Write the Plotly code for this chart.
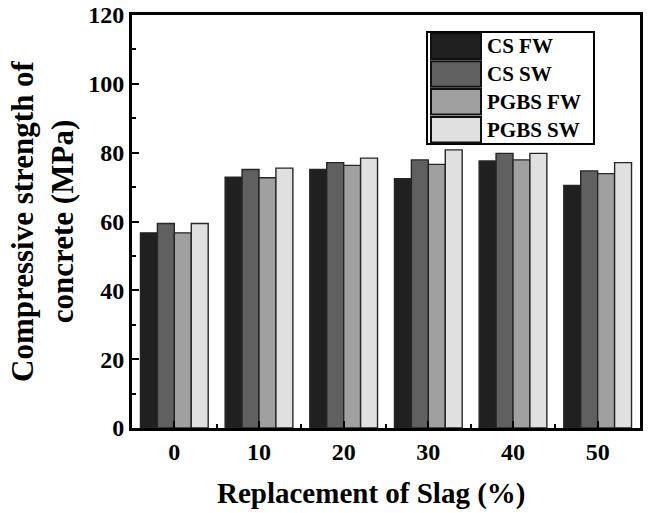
import plotly.graph_objects as go

slag = [0, 10, 20, 30, 40, 50]
series_names = ["CS FW", "CS SW", "PGBS FW", "PGBS SW"]
cs_fw = [56.7, 72.9, 75.1, 72.4, 77.6, 70.5]
cs_sw = [59.4, 75.1, 77.1, 77.9, 79.8, 74.7]
pgbs_fw = [56.7, 72.7, 76.3, 76.6, 77.9, 73.9]
pgbs_sw = [59.4, 75.5, 78.4, 80.8, 79.8, 77.1]
series_values = [cs_fw, cs_sw, pgbs_fw, pgbs_sw]
colors = ["#202020", "#606060", "#a0a0a0", "#e0e0e0"]
y_ticks = [0, 20, 40, 60, 80, 100, 120]
x_ticks = [0, 10, 20, 30, 40, 50]
x_title = "Replacement of Slag (%)"
y_title = "Compressive strength of<br>concrete (MPa)"

FONT = "Liberation Serif"

fig = go.Figure()
for name, vals, col in zip(series_names, series_values, colors):
    fig.add_trace(go.Bar(
        x=slag, y=vals, name=name, showlegend=False,
        marker=dict(color=col, line=dict(color="#262626", width=1.4)),
    ))

# plot area in pixels (for custom legend layout)
L, R, T, B = 132, 640, 15, 428
W, H = 652, 513
def px(xp):
    return (xp - L) / (R - L)
def py(yp):
    return (B - yp) / (B - T)

shapes = []
annotations = []
# legend box
shapes.append(dict(type="rect", xref="paper", yref="paper",
                   x0=px(427), x1=px(594), y0=py(144), y1=py(32),
                   line=dict(color="black", width=2), fillcolor="white", layer="above"))
row_h = 27.8
for i, (name, col) in enumerate(zip(series_names, colors)):
    top = 33.5 + i * row_h
    bot = top + 25.5
    shapes.append(dict(type="rect", xref="paper", yref="paper",
                       x0=px(431), x1=px(481), y0=py(bot), y1=py(top),
                       line=dict(color="#111111", width=2), fillcolor=col, layer="above"))
    annotations.append(dict(xref="paper", yref="paper", x=px(485), y=py((top + bot) / 2),
                            text=name, showarrow=False, xanchor="left", yanchor="middle",
                            font=dict(family=FONT, size=21, color="black", weight="bold")))

# x-axis title (slightly left of plot centre, as in the reference)
annotations.append(dict(xref="paper", yref="paper", x=px(371), y=py(493),
                        text=x_title, showarrow=False, xanchor="center", yanchor="middle",
                        font=dict(family=FONT, size=29, color="black", weight="bold")))

fig.update_layout(
    width=W, height=H,
    margin=dict(l=L, r=W - R, t=T, b=H - B, autoexpand=False),
    paper_bgcolor="white", plot_bgcolor="white",
    barmode="group", bargap=0.2, bargroupgap=0,
    shapes=shapes, annotations=annotations,
    font=dict(family=FONT, color="black"),
    xaxis=dict(
        range=[-5, 55], tickvals=x_ticks, ticktext=[str(v) for v in x_ticks],
        ticks="inside", ticklen=7, tickwidth=2, tickcolor="black",
        minor=dict(tickvals=[5, 15, 25, 35, 45], ticks="inside", ticklen=4, tickwidth=2, tickcolor="black"),
        showline=True, linewidth=3, linecolor="black", mirror=True, showgrid=False, zeroline=False,
        automargin=False,
        tickfont=dict(family=FONT, size=24, color="black", weight="bold"),
    ),
    yaxis=dict(
        range=[0, 120], tickvals=y_ticks,
        ticks="inside", ticklen=7, tickwidth=2, tickcolor="black",
        minor=dict(dtick=10, ticks="inside", ticklen=4, tickwidth=2, tickcolor="black"),
        showline=True, linewidth=3, linecolor="black", mirror=True, showgrid=False, zeroline=False,
        automargin=False,
        tickfont=dict(family=FONT, size=24, color="black", weight="bold"),
        title=dict(text=y_title, standoff=6,
                   font=dict(family=FONT, size=31, color="black", weight="bold")),
    ),
)

fig.write_html("out.html")
